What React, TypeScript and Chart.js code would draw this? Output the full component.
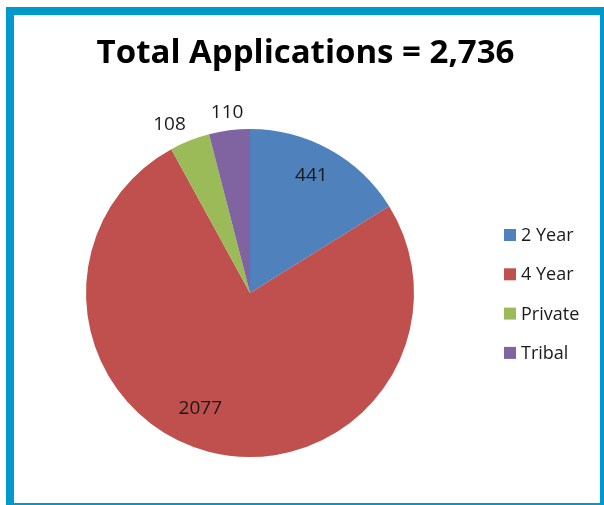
import React, { useEffect, useRef } from 'react';
import { Chart, registerables } from 'chart.js';

Chart.register(...registerables);

const categories = ['2 Year', '4 Year', 'Private', 'Tribal'];
const applications = [441, 2077, 108, 110];
const sliceColors = ['#4F81BD', '#C0504D', '#9BBB59', '#8064A2'];
const titleText = 'Total Applications = 2,736';
const labelRadius = [0.81, 0.77, 1.137, 1.107];
const labelAngleShift = [-1.5, 8.5, -4, 0];

const W = 604;
const H = 505;

const framePlugin = {
  id: 'frame',
  beforeDraw(chart: any) {
    const ctx = chart.ctx;
    ctx.save();
    ctx.fillStyle = '#ffffff';
    ctx.fillRect(0, 0, W, H);
    ctx.fillStyle = '#0099CC';
    ctx.fillRect(6, 7, 8, H - 7);
    ctx.fillRect(6, 7, W - 6, 8);
    ctx.fillRect(600, 7, W - 600, H - 7);
    ctx.fillRect(6, 503, W - 6, H - 503);
    ctx.restore();
  },
};

const textPlugin = {
  id: 'texts',
  afterDraw(chart: any) {
    const ctx = chart.ctx;
    ctx.save();
    // title
    ctx.fillStyle = '#000000';
    ctx.font = 'bold 33px "Open Sans"';
    ctx.textAlign = 'center';
    ctx.textBaseline = 'alphabetic';
    ctx.fillText(titleText, 305.5, 63);

    // data labels
    const meta = chart.getDatasetMeta(0);
    ctx.font = '19px "Open Sans"';
    ctx.fillStyle = '#1a1a1a';
    ctx.textBaseline = 'middle';
    meta.data.forEach((arc: any, i: number) => {
      const p = arc.getProps(['x', 'y', 'startAngle', 'endAngle', 'outerRadius'], true);
      const mid = (p.startAngle + p.endAngle) / 2 + (labelAngleShift[i] * Math.PI) / 180;
      const r = p.outerRadius * labelRadius[i];
      ctx.fillText(String(applications[i]), p.x + Math.cos(mid) * r, p.y + Math.sin(mid) * r);
    });

    // legend
    ctx.font = '18px "Open Sans"';
    ctx.textAlign = 'left';
    categories.forEach((c, i) => {
      const cy = 235 + i * 39.3;
      ctx.fillStyle = sliceColors[i];
      ctx.fillRect(504, cy - 6, 12, 12);
      ctx.fillStyle = '#1a1a1a';
      ctx.fillText(c, 521, cy + 1);
    });
    ctx.restore();
  },
};

export default function App() {
  const ref = useRef<HTMLCanvasElement | null>(null);
  useEffect(() => {
    if (!ref.current) return;
    const chart = new Chart(ref.current, {
      type: 'pie',
      data: {
        labels: categories,
        datasets: [
          {
            data: applications,
            backgroundColor: sliceColors,
            borderWidth: 0,
          },
        ],
      },
      options: {
        responsive: false,
        animation: false,
        layout: { padding: { left: 86, right: 190, top: 129, bottom: 48 } },
        plugins: {
          legend: { display: false },
          title: { display: false },
          tooltip: { enabled: false },
        },
      },
      plugins: [framePlugin, textPlugin],
    });
    return () => chart.destroy();
  }, []);
  return (
    <div style={{ position: 'fixed', left: 0, top: 0, width: W, height: H, overflow: 'hidden' }}>
      <canvas ref={ref} width={W} height={H} style={{ display: 'block', width: W, height: H }} />
    </div>
  );
}
